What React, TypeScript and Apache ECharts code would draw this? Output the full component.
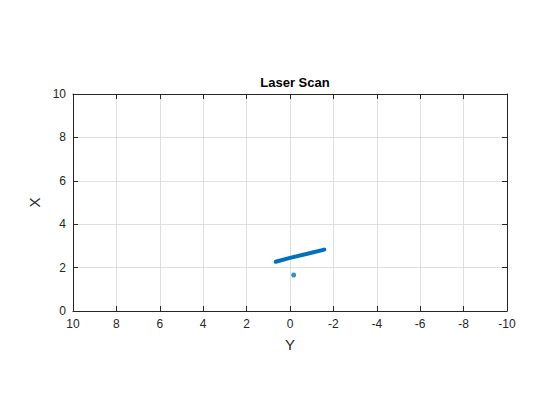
import React, { useEffect, useRef } from "react";
import * as echarts from "echarts";

// Laser scan points as [Y, X]
const scanLine: [number, number][] = [
  [0.66, 2.27],
  [0.0, 2.45],
  [-0.8, 2.64],
  [-1.58, 2.83],
];
const scanPoint: [number, number][] = [[-0.17, 1.66]];
const yTicks = [10, 8, 6, 4, 2, 0, -2, -4, -6, -8, -10];

const FONT = "Liberation Sans, Arial, Helvetica, sans-serif";
const TXT = "#262626";
const BLUE = "#0072BD";

export default function App() {
  const ref = useRef<HTMLDivElement>(null);
  useEffect(() => {
    const chart = echarts.init(ref.current!, undefined, { renderer: "svg" });
    const axisCommon = {
      type: "value" as const,
      interval: 2,
      axisLine: { show: true, onZero: false, lineStyle: { color: TXT, width: 1 } },
      axisTick: { show: true, inside: true, length: 5, lineStyle: { color: TXT } },
      axisLabel: { color: TXT, fontSize: 12, fontFamily: FONT },
    };
    chart.setOption({
      animation: false,
      backgroundColor: "#fff",
      title: {
        text: "Laser Scan",
        left: 290,
        textAlign: "center",
        top: 71,
        textStyle: { fontSize: 13, fontWeight: "bold", color: "#000", fontFamily: FONT },
      },
      grid: { left: 73, right: 53, top: 94, bottom: 109, containLabel: false },
      xAxis: [
        {
          ...axisCommon,
          min: -10,
          max: 10,
          inverse: true,
          position: "bottom",
          name: "Y",
          nameLocation: "middle",
          nameGap: 26,
          nameTextStyle: { color: TXT, fontSize: 15, fontFamily: FONT },
          axisLabel: {
            ...axisCommon.axisLabel,
            margin: 7,
            formatter: (v: number) => (yTicks.includes(v) ? String(v) : ""),
          },
          splitLine: { show: true, lineStyle: { color: "#dfdfdf", width: 1 } },
        },
        {
          ...axisCommon,
          min: -10,
          max: 10,
          inverse: true,
          position: "top",
          axisLabel: { show: false },
          splitLine: { show: false },
        },
      ],
      yAxis: [
        {
          ...axisCommon,
          min: 0,
          max: 10,
          position: "left",
          name: "X",
          nameLocation: "middle",
          nameGap: 30,
          nameRotate: 90,
          nameTextStyle: { color: TXT, fontSize: 15, fontFamily: FONT },
          axisLabel: { ...axisCommon.axisLabel, margin: 7 },
          splitLine: { show: true, lineStyle: { color: "#dfdfdf", width: 1 } },
        },
        {
          ...axisCommon,
          min: 0,
          max: 10,
          position: "right",
          axisLabel: { show: false },
          splitLine: { show: false },
        },
      ],
      series: [
        {
          type: "line",
          data: scanLine,
          showSymbol: false,
          symbol: "none",
          lineStyle: { color: BLUE, width: 4, cap: "round" },
        },
        {
          type: "scatter",
          data: scanPoint,
          symbolSize: 5,
          itemStyle: { color: BLUE },
        },
      ],
    });
    return () => chart.dispose();
  }, []);
  return <div ref={ref} style={{ width: 560, height: 420, position: "absolute", left: 0, top: 0 }} />;
}
